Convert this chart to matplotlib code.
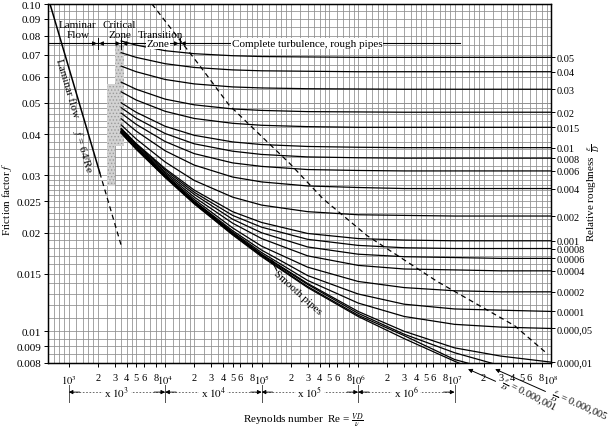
import numpy as np
import matplotlib
matplotlib.use("Agg")
import matplotlib.pyplot as plt
import matplotlib.transforms as mtransforms
from matplotlib.patches import Rectangle
from matplotlib.ticker import FixedLocator, NullLocator

plt.rcParams['font.family'] = ['Liberation Serif', 'DejaVu Serif']
plt.rcParams['mathtext.fontset'] = 'stix'
plt.rcParams['hatch.linewidth'] = 0.6

re_points = [3.5e3, 5e3, 1e4, 2e4, 5e4, 1e5, 3e5, 1e6, 3e6, 1e7, 3e7, 1e8]

# friction factor f for each relative roughness e/D
f_0_05 = [0.0771, 0.0749, 0.0720, 0.0705, 0.0695, 0.0691, 0.0689, 0.0687, 0.0687, 0.0687, 0.0687, 0.0687]
f_0_04 = [0.0710, 0.0687, 0.0657, 0.0640, 0.0629, 0.0625, 0.0623, 0.0621, 0.0621, 0.0621, 0.0621, 0.0621]
f_0_03 = [0.0646, 0.0621, 0.0588, 0.0570, 0.0558, 0.0554, 0.0551, 0.0550, 0.0549, 0.0549, 0.0549, 0.0549]
f_0_02 = [0.0577, 0.0549, 0.0512, 0.0492, 0.0478, 0.0473, 0.0469, 0.0468, 0.0467, 0.0467, 0.0467, 0.0467]
f_0_015 = [0.0539, 0.0509, 0.0470, 0.0447, 0.0432, 0.0426, 0.0422, 0.0420, 0.0420, 0.0420, 0.0420, 0.0420]
f_0_01 = [0.0499, 0.0467, 0.0423, 0.0397, 0.0379, 0.0372, 0.0367, 0.0365, 0.0364, 0.0364, 0.0364, 0.0364]
f_0_008 = [0.0482, 0.0448, 0.0402, 0.0374, 0.0355, 0.0347, 0.0341, 0.0339, 0.0338, 0.0338, 0.0338, 0.0338]
f_0_006 = [0.0464, 0.0429, 0.0380, 0.0349, 0.0327, 0.0319, 0.0312, 0.0310, 0.0309, 0.0309, 0.0309, 0.0309]
f_0_004 = [0.0446, 0.0409, 0.0356, 0.0322, 0.0296, 0.0286, 0.0278, 0.0275, 0.0273, 0.0273, 0.0273, 0.0273]
f_0_002 = [0.0427, 0.0387, 0.0329, 0.0289, 0.0257, 0.0243, 0.0232, 0.0227, 0.0226, 0.0225, 0.0225, 0.0225]
f_0_001 = [0.0417, 0.0375, 0.0314, 0.0270, 0.0232, 0.0215, 0.0199, 0.0192, 0.0190, 0.0189, 0.0189, 0.0189]
f_0_0008 = [0.0415, 0.0373, 0.0311, 0.0266, 0.0226, 0.0208, 0.0191, 0.0183, 0.0180, 0.0179, 0.0179, 0.0179]
f_0_0006 = [0.0413, 0.0371, 0.0307, 0.0262, 0.0220, 0.0200, 0.0181, 0.0172, 0.0169, 0.0168, 0.0167, 0.0167]
f_0_0004 = [0.0410, 0.0368, 0.0304, 0.0257, 0.0214, 0.0192, 0.0170, 0.0159, 0.0155, 0.0154, 0.0153, 0.0153]
f_0_0002 = [0.0408, 0.0366, 0.0301, 0.0253, 0.0207, 0.0182, 0.0157, 0.0142, 0.0136, 0.0133, 0.0132, 0.0132]
f_0_0001 = [0.0407, 0.0365, 0.0299, 0.0250, 0.0203, 0.0177, 0.0148, 0.0130, 0.0121, 0.0117, 0.0116, 0.0115]
f_5e_5 = [0.0407, 0.0364, 0.0298, 0.0249, 0.0201, 0.0174, 0.0143, 0.0122, 0.0111, 0.0105, 0.0103, 0.0102]
f_1e_5 = [0.0406, 0.0363, 0.0298, 0.0248, 0.0200, 0.0172, 0.0140, 0.0115, 0.0100, 0.0089, 0.0084, 0.00805]
f_5e_6 = [0.0405, 0.0362, 0.0297, 0.0247, 0.0199, 0.0171, 0.0139, 0.01135, 0.0098, 0.0086, 0.00785, 0.0074]
f_1e_6 = [0.0404, 0.0361, 0.0296, 0.0246, 0.0198, 0.0170, 0.0137, 0.0112, 0.0097, 0.0082, 0.0075, 0.0070]
f_smooth = [0.0403, 0.0360, 0.0295, 0.0245, 0.0197, 0.0169, 0.0136, 0.0111, 0.0095, 0.0081, 0.0071, 0.0063]

roughness_labels = ['0.05', '0.04', '0.03', '0.02', '0.015', '0.01', '0.008', '0.006',
                    '0.004', '0.002', '0.001', '0.0008', '0.0006', '0.0004', '0.0002',
                    '0.0001', '0.000,05', '0.000,01']

# laminar line f = 64/Re (solid part, then dashed extension)
laminar_re = [640, 2100]
laminar_f = [0.100, 0.0305]
laminar_ext_re = [2100, 3480]
laminar_ext_f = [0.0305, 0.0184]

# dashed boundary of complete turbulence
boundary_re = [7.3e3, 2.3e4, 4.6e4, 1.97e5, 4.33e5, 1.24e6, 6.6e6, 4.2e7, 9.3e7]
boundary_f = [0.100, 0.0646, 0.0491, 0.0325, 0.0254, 0.0196, 0.0142, 0.0104, 0.0085]

y_ticks = [0.10, 0.09, 0.08, 0.07, 0.06, 0.05, 0.04, 0.03, 0.025, 0.02, 0.015, 0.01, 0.009, 0.008]
y_ticklabels = ['0.10', '0.09', '0.08', '0.07', '0.06', '0.05', '0.04', '0.03', '0.025',
                '0.02', '0.015', '0.01', '0.009', '0.008']

curves = [f_0_05, f_0_04, f_0_03, f_0_02, f_0_015, f_0_01, f_0_008, f_0_006, f_0_004,
          f_0_002, f_0_001, f_0_0008, f_0_0006, f_0_0004, f_0_0002, f_0_0001, f_5e_5,
          f_1e_5, f_5e_6, f_1e_6, f_smooth]

fig = plt.figure(figsize=(6.14, 4.35), dpi=100)
ax = fig.add_axes([48 / 614, 1 - 364 / 435, 503 / 614, 359 / 435])
ax.set_xscale('log')
ax.set_yscale('log')
ax.set_xlim(610, 1e8)
ax.set_ylim(0.008, 0.1)

# dense chart-paper grid
grid_kw = dict(color='#8c8c8c', lw=0.55, zorder=0)
for dec in [1e2, 1e3, 1e4, 1e5, 1e6, 1e7]:
    for s in [1, 1.2, 1.4, 1.6, 1.8, 2, 2.5, 3, 3.5, 4, 4.5, 5, 6, 7, 8, 9]:
        v = s * dec
        if 610 < v < 1e8:
            ax.axvline(v, **grid_kw)
y_grid = (list(np.arange(0.0085, 0.0100, 0.0005)) + list(np.arange(0.010, 0.030, 0.001))
          + list(np.arange(0.030, 0.050, 0.002)) + list(np.arange(0.050, 0.1, 0.005)))
for v in y_grid:
    ax.axhline(v, **grid_kw)

# critical zone shading (stippled)
for (x0, y0, w, h) in [(0.1173, 0.493, 0.0159, 0.284), (0.1332, 0.6045, 0.018, 0.2785)]:
    ax.add_patch(Rectangle((x0, y0), w, h, transform=ax.transAxes, facecolor='#d2d2d2',
                           edgecolor='#9a9a9a', hatch='.....', lw=0, zorder=1))

for vals in curves:
    ax.plot(re_points, vals, color='black', lw=0.9, zorder=3)

ax.plot(laminar_re, laminar_f, color='black', lw=1.1, zorder=3)
ax.plot(laminar_ext_re, laminar_ext_f, color='black', lw=0.9, ls=(0, (4, 3)), zorder=3)
ax.plot(boundary_re, boundary_f, color='black', lw=0.9, ls=(0, (4, 3)), zorder=3)

# ticks
ax.set_yticks(y_ticks)
ax.set_yticklabels(y_ticklabels)
ax.yaxis.set_minor_locator(NullLocator())
ax.set_xticks([1e3, 1e4, 1e5, 1e6, 1e7, 1e8])
ax.set_xticklabels(['$10^3$', '$10^4$', '$10^5$', '$10^6$', '$10^7$', '$10^8$'])
minor_x = [m * 10 ** k for k in range(3, 8) for m in [2, 3, 4, 5, 6, 8]]
ax.set_xticks(minor_x, minor=True)
ax.set_xticklabels([str(m) for k in range(3, 8) for m in [2, 3, 4, 5, 6, 8]], minor=True)
ax.tick_params(axis='both', which='both', direction='out', labelsize=8, length=3, width=0.7, pad=2)
ax.tick_params(axis='x', which='both', pad=4, labelsize=7.5)
for sp in ax.spines.values():
    sp.set_linewidth(1.0)

# relative roughness labels on the right
ax2 = ax.twinx()
ax2.set_yscale('log')
ax2.set_ylim(ax.get_ylim())
ax2.yaxis.set_major_locator(FixedLocator([c[-1] for c in curves[:18]]))
ax2.yaxis.set_minor_locator(NullLocator())
ax2.set_yticklabels(roughness_labels)
ax2.tick_params(axis='y', labelsize=7.5, length=3, width=0.7, pad=1)

# zone annotations along the top
ax.plot([0, 0.819], [0.89, 0.89], transform=ax.transAxes, color='black', lw=0.8, zorder=4)
txt = dict(transform=ax.transAxes, ha='center', va='center', fontsize=8, zorder=5)
ax.text(0.0596, 0.944, 'Laminar', **txt)
ax.text(0.0596, 0.916, 'Flow', **txt)
ax.text(0.141, 0.944, 'Critical', **txt)
ax.text(0.143, 0.916, 'Zone', **txt)
ax.text(0.2227, 0.916, 'Transition', **txt)
ax.text(0.2187, 0.89, 'Zone', bbox=dict(fc='white', ec='none', pad=0.5), **txt)
ax.text(0.515, 0.889, 'Complete turbulence, rough pipes', bbox=dict(fc='white', ec='none', pad=0.8), **txt)
for bx in [0.0994, 0.146, 0.262]:
    ax.plot([bx, bx], [0.875, 0.905], transform=ax.transAxes, color='black', lw=0.7, zorder=5)
    for side in [-1, 1]:
        ax.annotate('', xy=(bx + side * 0.002, 0.89), xytext=(bx + side * 0.016, 0.89),
                    xycoords='axes fraction', textcoords='axes fraction',
                    arrowprops=dict(arrowstyle='-|>', color='black', lw=0.7,
                                    mutation_scale=6, shrinkA=0, shrinkB=0), zorder=5)

# laminar flow label, sitting just below-left of the line
ax.text(0.0382, 0.7688, 'Laminar flow', rotation=-73.4, transform=ax.transAxes,
        ha='center', va='center', fontsize=8, rotation_mode='anchor')
ax.text(0.0705, 0.5925, '$f$ = 64/Re', rotation=-73.4, transform=ax.transAxes,
        ha='center', va='center', fontsize=8, rotation_mode='anchor')

# smooth pipes label
ax.text(0.497, 0.198, 'Smooth pipes', rotation=-42, transform=ax.transAxes,
        ha='center', va='center', fontsize=8, rotation_mode='anchor', zorder=5)
ax.annotate('', xy=(0.4427, 0.2897), xytext=(0.455, 0.257), xycoords='axes fraction',
            textcoords='axes fraction',
            arrowprops=dict(arrowstyle='-|>', color='black', lw=0.7, mutation_scale=6,
                            shrinkA=0, shrinkB=0))

# labels for the two smoothest rough-pipe curves, below the axis
for tip_x, tx, ty, rot, lab in [(0.835, 0.956, -0.092, -27, '0.000,001'),
                                (0.889, 1.056, -0.121, -24, '0.000,005')]:
    ax.annotate(r'$\frac{\epsilon}{D}$ = ' + lab, xy=(tip_x, -0.017), xytext=(tx, ty),
                xycoords='axes fraction', textcoords='axes fraction', rotation=rot,
                ha='center', va='center', fontsize=7.5, annotation_clip=False,
                arrowprops=dict(arrowstyle='-|>', color='black', lw=0.7, mutation_scale=6,
                                shrinkA=0, shrinkB=0))

# decade multiplier row under the tick labels
trans = mtransforms.blended_transform_factory(ax.transData, ax.transAxes)
y_row = -0.081
for k, lab in zip([3, 4, 5, 6], ['x $10^3$', 'x $10^4$', 'x $10^5$', 'x $10^6$']):
    a, b = 10.0 ** k, 10.0 ** (k + 1)
    ax.plot([a, b], [y_row, y_row], transform=trans, color='#555555', lw=0.6,
            ls=(0, (2, 2)), clip_on=False)
    for end, start in [(a, a * 1.3), (b, b / 1.3)]:
        ax.annotate('', xy=(end, y_row), xytext=(start, y_row), xycoords=trans, textcoords=trans,
                    annotation_clip=False,
                    arrowprops=dict(arrowstyle='-|>', color='black', lw=0.6, mutation_scale=6,
                                    shrinkA=0, shrinkB=0))
    for edge in [a, b]:
        ax.plot([edge, edge], [-0.062, -0.108], transform=trans, color='#555555', lw=0.7,
                clip_on=False)
    ax.text(10.0 ** (k + 0.5), y_row, lab, transform=trans, ha='center', va='center', fontsize=8,
            bbox=dict(fc='white', ec='none', pad=1.0))

# axis titles
fig.text(303 / 614, 1 - 421 / 435, r'Reynolds number  Re = $\frac{VD}{\nu}$', ha='center',
         va='center', fontsize=8)
fig.text(7 / 614, 1 - 199 / 435, 'Friction factor $f$', rotation=90, ha='center', va='center',
         fontsize=8)
fig.text(594 / 614, 1 - 193 / 435, r'Relative roughness  $\frac{\epsilon}{D}$', rotation=90,
         ha='center', va='center', fontsize=8)

fig.savefig('out.png', dpi=100, facecolor='white')
